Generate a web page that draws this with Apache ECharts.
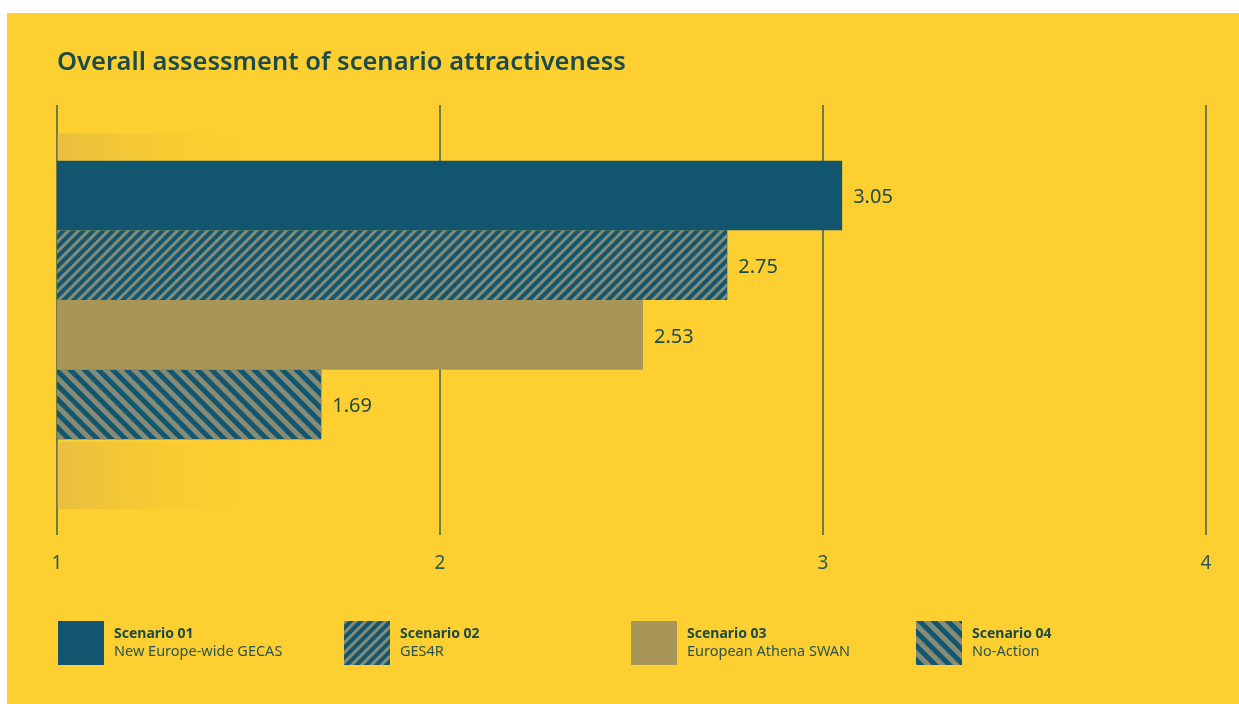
<!DOCTYPE html>
<html>
<head>
<meta charset="utf-8">
<script src="https://cdn.jsdelivr.net/npm/echarts@6/dist/echarts.min.js"></script>
<style>
    html, body { margin: 0; padding: 0; background: #ffffff; }
    #chart { position: absolute; left: 7px; top: 13px; width: 1232px; height: 691px; background: #fdcf30; }
</style>
</head>
<body>
<div id="chart"></div>
<script>
// data
var scenarios = ['Scenario 01', 'Scenario 02', 'Scenario 03', 'Scenario 04'];
var subtitles = ['New Europe-wide GECAS', 'GES4R', 'European Athena SWAN', 'No-Action'];
var scores = [3.05, 2.75, 2.53, 1.69];
var xTicks = [1, 2, 3, 4];
// faded decoration rows above and below the bars: [value, row, share of row height]
var fadeBars = [[1.5, 0, 0.39], [1.5, 5, 0.96]];

var rows = [''].concat(scenarios).concat(['']);

var barColors = ['#11556f', '#13566f', '#a89658', '#13566f'];
var decals = [
    null,
    { symbol: 'rect', symbolSize: 1, color: '#858b74', dashArrayX: [1, 0], dashArrayY: [3, 3.4], rotation: -Math.PI / 4 },
    null,
    { symbol: 'rect', symbolSize: 1, color: '#858b74', dashArrayX: [1, 0], dashArrayY: [5, 5], rotation: Math.PI / 4 }
];
var legendLeft = [51, 337, 624, 909];

var myChart = echarts.init(document.getElementById('chart'));

var series = [];
// faded bars
series.push({
    type: 'custom',
    xAxisIndex: 1,
    yAxisIndex: 1,
    silent: true,
    z: 1,
    encode: { x: 0, y: 1 },
    data: fadeBars,
    renderItem: function (params, api) {
        var start = api.coord([xTicks[0], api.value(1)]);
        var end = api.coord([api.value(0), api.value(1)]);
        var band = api.size([0, 1])[1];
        var h = band * api.value(2);
        return {
            type: 'rect',
            shape: { x: start[0], y: start[1] + band / 2 - h, width: end[0] - start[0], height: h },
            style: {
                fill: new echarts.graphic.LinearGradient(0, 0, 1, 0, [
                    { offset: 0, color: 'rgba(200,165,90,0.38)' },
                    { offset: 0.4, color: 'rgba(215,178,70,0.22)' },
                    { offset: 1, color: 'rgba(253,207,48,0)' }
                ])
            }
        };
    }
});

for (var i = 0; i < scenarios.length; i++) {
    var d = rows.map(function () { return null; });
    d[i + 1] = scores[i];
    var itemStyle = { color: barColors[i] };
    if (decals[i]) itemStyle.decal = decals[i];
    series.push({
        name: scenarios[i],
        type: 'bar',
        xAxisIndex: 1,
        yAxisIndex: 1,
        z: 2,
        data: d,
        barWidth: '100%',
        barGap: '-100%',
        itemStyle: itemStyle,
        label: {
            show: true,
            position: 'right',
            distance: 11,
            color: '#1f4a48',
            fontSize: 20,
            fontFamily: 'Noto Sans',
            offset: [0, 2],
            formatter: function (p) { return p.value.toFixed(2); }
        }
    });
}

var legends = scenarios.map(function (name, i) {
    return {
        data: [name],
        left: legendLeft[i],
        top: 608,
        padding: 0,
        orient: 'vertical',
        itemWidth: 46,
        itemHeight: 44,
        icon: 'rect',
        selectedMode: false,
        formatter: function (n) {
            return '{b|' + n + '}\n{n|' + subtitles[scenarios.indexOf(n)] + '}';
        },
        textStyle: {
            padding: [0, 0, 0, 5],
            rich: {
                b: { fontFamily: 'Noto Sans', fontWeight: 'bold', fontSize: 14, color: '#1d4a48', lineHeight: 18 },
                n: { fontFamily: 'Noto Sans', fontSize: 14.5, color: '#2a5550', lineHeight: 18 }
            }
        }
    };
});

var option = {
    animation: false,
    title: {
        text: 'Overall assessment of scenario attractiveness',
        left: 50,
        top: 37,
        padding: 0,
        textStyle: {
            fontFamily: 'Noto Sans',
            fontWeight: 600,
            fontSize: 25.5,
            color: '#1b4b4a'
        }
    },
    legend: legends,
    grid: [
        { left: 50, right: 33, top: 92, bottom: 169 },
        { left: 50, right: 33, top: 78, bottom: 195 }
    ],
    xAxis: [{
        gridIndex: 0,
        type: 'value',
        min: 1,
        max: 4,
        interval: 1,
        axisLine: { show: false },
        axisTick: { show: false },
        axisLabel: {
            margin: 19,
            color: '#2a5a55',
            fontSize: 19,
            fontFamily: 'Noto Sans'
        },
        splitLine: {
            show: true,
            lineStyle: { color: '#3e6150', width: 1.5 }
        }
    }, {
        gridIndex: 1,
        type: 'value',
        min: 1,
        max: 4,
        show: false
    }],
    yAxis: [{
        gridIndex: 0,
        type: 'value',
        show: false
    }, {
        gridIndex: 1,
        type: 'category',
        data: rows,
        inverse: true,
        show: false
    }],
    series: series
};

myChart.setOption(option);
window.addEventListener('resize', function () {
    myChart.resize();
});
</script>
</body>
</html>
